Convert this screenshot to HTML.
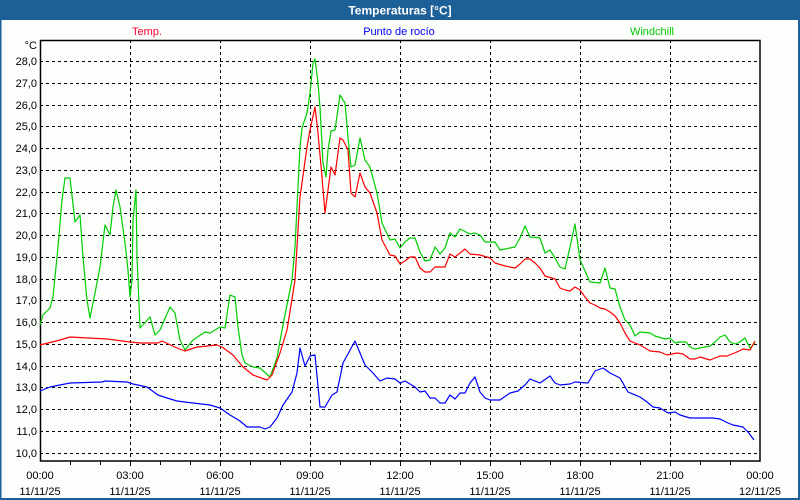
<!DOCTYPE html>
<html><head><meta charset="utf-8"><style>
html,body{margin:0;padding:0;background:#fcfefc;}
svg{display:block;font-family:"Liberation Sans","DejaVu Sans",sans-serif;}
</style></head><body>
<svg width="800" height="500" viewBox="0 0 800 500" xmlns="http://www.w3.org/2000/svg">
<rect x="0" y="0" width="800" height="500" fill="#fcfefc"/>
<rect x="0" y="0" width="800" height="20" fill="#1d6098"/>
<rect x="0" y="0" width="1.5" height="500" fill="#1d6098"/>
<rect x="798" y="0" width="2" height="500" fill="#1d6098"/>
<rect x="0" y="498" width="800" height="2" fill="#1d6098"/>
<text x="400" y="14.5" fill="#fff" font-size="12" font-weight="bold" text-anchor="middle">Temperaturas [°C]</text>
<text x="147" y="35" fill="#ff0030" font-size="11" text-anchor="middle">Temp.</text>
<text x="399" y="35" fill="#0000ff" font-size="11" text-anchor="middle">Punto de rocío</text>
<text x="652" y="35" fill="#00cc00" font-size="11" text-anchor="middle">Windchill</text>
<g stroke="#000" stroke-width="1" stroke-dasharray="3,3" fill="none">
<path d="M40 61.5H760M40 83.5H760M40 105.5H760M40 126.5H760M40 148.5H760M40 170.5H760M40 192.5H760M40 213.5H760M40 235.5H760M40 257.5H760M40 279.5H760M40 300.5H760M40 322.5H760M40 344.5H760M40 366.5H760M40 387.5H760M40 409.5H760M40 431.5H760M40 453.5H760"/>
<path d="M130.5 40V461M220.5 40V461M310.5 40V461M400.5 40V461M490.5 40V461M580.5 40V461M670.5 40V461"/>
</g>
<rect x="40.5" y="40.5" width="719.5" height="420.5" fill="none" stroke="#000" stroke-width="1.5"/>
<g stroke="#000" stroke-width="1">
<path d="M70.5 461V465M100.5 461V465M130.5 461V466M160.5 461V465M190.5 461V465M220.5 461V466M250.5 461V465M280.5 461V465M310.5 461V466M340.5 461V465M370.5 461V465M400.5 461V466M430.5 461V465M460.5 461V465M490.5 461V466M520.5 461V465M550.5 461V465M580.5 461V466M610.5 461V465M640.5 461V465M670.5 461V466M700.5 461V465M730.5 461V465"/>
</g>
<g font-size="11" fill="#000" text-anchor="end">
<text x="37" y="49">°C</text>
<text x="37" y="65">28,0</text><text x="37" y="87">27,0</text><text x="37" y="109">26,0</text><text x="37" y="130">25,0</text><text x="37" y="152">24,0</text><text x="37" y="174">23,0</text><text x="37" y="196">22,0</text><text x="37" y="217">21,0</text><text x="37" y="239">20,0</text><text x="37" y="261">19,0</text><text x="37" y="283">18,0</text><text x="37" y="304">17,0</text><text x="37" y="326">16,0</text><text x="37" y="348">15,0</text><text x="37" y="370">14,0</text><text x="37" y="391">13,0</text><text x="37" y="413">12,0</text><text x="37" y="435">11,0</text><text x="37" y="457">10,0</text>
</g>
<g font-size="11" fill="#000" text-anchor="middle">
<text x="40" y="479">00:00</text><text x="40" y="495">11/11/25</text>
<text x="130" y="479">03:00</text><text x="130" y="495">11/11/25</text>
<text x="220" y="479">06:00</text><text x="220" y="495">11/11/25</text>
<text x="310" y="479">09:00</text><text x="310" y="495">11/11/25</text>
<text x="400" y="479">12:00</text><text x="400" y="495">11/11/25</text>
<text x="490" y="479">15:00</text><text x="490" y="495">11/11/25</text>
<text x="580" y="479">18:00</text><text x="580" y="495">11/11/25</text>
<text x="670" y="479">21:00</text><text x="670" y="495">11/11/25</text>
<text x="760" y="479">00:00</text><text x="760" y="495">12/11/25</text>
</g>
<g fill="none" stroke-width="1.2" stroke-linejoin="round">
<polyline stroke="#00cc00" points="40,325 43,315 50,308 53,297 58,247 62,200 65,178 70,178 75,222 80,215 83,257 87,300 90,318 95,293 100,267 105,225 110,235 113,207 116,190 120,207 125,243 128,270 130,297 132,280 133,220 136,190 137,257 140,328 150,317 155,335 160,330 170,307 175,313 180,340 185,350 193,340 205,332 210,333 220,327 225,328 230,295 235,297 238,327 242,355 245,363 253,367 260,368 270,377 277,358 282,330 292,280 295,247 300,147 302,128 307,113 310,93 313,63 315,59 318,83 320,107 323,163 326,177 328,150 331,131 335,130 340,95 345,103 348,137 351,167 355,165 360,138 365,160 370,167 377,193 382,223 390,240 395,239 400,248 405,242 410,238 415,238 420,252 425,261 430,260 435,247 440,254 445,248 450,233 455,237 460,229 470,234 475,233 480,235 485,242 495,242 500,250 505,249 515,247 520,238 525,226 530,237 540,238 545,253 550,250 555,258 560,267 565,269 570,247 575,224 580,260 590,282 600,283 605,268 610,288 615,289 620,307 625,320 630,325 635,336 640,332 650,333 655,336 665,339 670,338 675,343 680,342 686,342 690,347 695,349 700,348 710,346 715,342 720,337 725,335 730,342 735,344 740,342 745,338 750,348 755,343"/>
<polyline stroke="#ff0000" points="40,345 60,340 70,337 107,339 130,342 140,343 158,343 162,341 177,348 185,351 197,347 217,345 222,347 233,355 243,367 253,375 267,380 272,375 280,353 287,330 295,280 300,197 307,147 310,130 315,107 318,133 322,177 325,213 328,190 331,167 335,175 340,138 343,140 348,150 351,193 355,197 360,173 365,187 370,193 377,213 382,240 390,255 395,256 400,264 405,261 410,257 415,257 420,268 425,272 430,272 435,267 445,267 450,254 455,257 465,249 470,254 480,255 490,258 495,263 505,266 515,268 520,264 525,259 530,259 535,263 540,268 545,276 555,279 560,288 565,290 570,291 575,287 580,290 585,297 590,303 595,305 600,308 605,309 610,312 615,316 620,323 625,333 630,341 635,343 640,345 650,351 660,352 667,355 677,353 683,354 690,359 695,359 700,357 710,360 720,356 727,356 737,352 743,349 750,350 755,341"/>
<polyline stroke="#0000ff" points="40,391 50,387 70,383 102,382 105,381 127,382 133,384 147,387 158,395 167,398 177,401 193,403 210,405 220,408 230,415 240,421 247,427 260,427 265,429 270,427 277,418 283,405 292,392 297,373 300,348 305,366 310,356 315,355 320,407 325,407 332,395 337,392 343,363 355,341 365,365 372,372 380,381 387,378 395,379 400,383 405,381 415,387 420,392 425,391 430,398 435,398 440,403 445,403 450,395 455,399 460,393 465,393 470,383 475,377 480,392 485,398 490,400 500,400 510,393 518,391 525,385 530,379 540,383 550,376 555,383 560,385 570,384 575,382 588,383 595,371 603,368 610,373 620,378 628,392 640,397 647,402 653,407 660,408 668,413 675,412 680,415 690,418 713,418 720,419 728,423 733,425 743,427 748,432 754,440"/>
</g>
</svg>
</body></html>
